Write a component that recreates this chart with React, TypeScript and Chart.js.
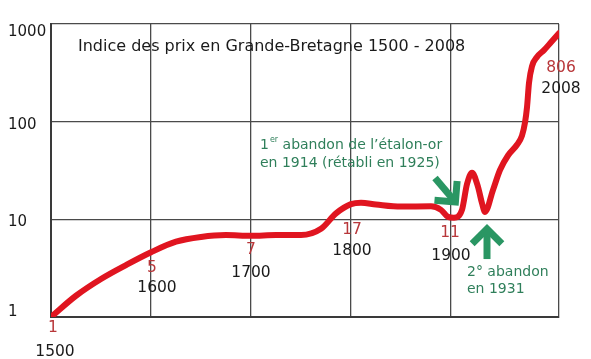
import React, { useEffect, useRef } from "react";
import { Chart, registerables } from "chart.js";

Chart.register(...registerables);

const years = [1500, 1525, 1550, 1575, 1600, 1625, 1650, 1675, 1700, 1725, 1750, 1770, 1785, 1800, 1810, 1825, 1850, 1880, 1890, 1897, 1903, 1911, 1916, 1921, 1927, 1931, 1934, 1942, 1949, 1957, 1966, 1971, 1974, 1976, 1978, 1981, 1986, 1993, 2000, 2008];
const prices = [1, 1.65, 2.45, 3.4, 4.6, 5.9, 6.6, 6.9, 6.8, 6.9, 6.9, 8.0, 11.5, 14.3, 14.8, 14.2, 13.5, 13.6, 12.5, 10.6, 10.4, 12.5, 23, 30, 21.5, 14.6, 11.9, 20, 32, 45, 58, 72, 98, 140, 250, 370, 460, 540, 650, 806];

const xTicks = [1500, 1600, 1700, 1800, 1900, 2008];
const yTicks = [1, 10, 100, 1000];
const yTickShift = [-5, 3, 3, 8];

const title = "Indice des prix en Grande-Bretagne 1500 - 2008";
const titlePos = [1527, 580];

// value labels (red) and year labels (black): [year, value, text]
const valueLabels: [number, number, string][] = [
  [1502, 0.77, "1"],
  [1601, 3.18, "5"],
  [1700, 4.85, "7"],
  [1801, 7.8, "17"],
  [1899, 7.25, "11"],
  [2010, 354, "806"],
];
const yearLabels: [number, number, string][] = [
  [1504, 0.44, "1500"],
  [1606, 1.98, "1600"],
  [1700, 2.82, "1700"],
  [1801, 4.74, "1800"],
  [1900, 4.22, "1900"],
  [2010, 216, "2008"],
];
// green notes: [year, value, main, superscript, rest]
const notes: [number, number, string, string, string][] = [
  [1709, 57.6, "1", "er", " abandon de l\u2019\u00e9talon-or"],
  [1709, 37.8, "en 1914 (r\u00e9tabli en 1925)", "", ""],
  [1916, 2.89, "2\u00b0 abandon", "", ""],
  [1916, 1.94, "en 1931", "", ""],
];
// arrows: [fromYear, fromValue, toYear, toValue]
const arrows: [number, number, number, number][] = [
  [1884, 26.5, 1907, 14.0],
  [1936, 3.92, 1936, 8.76],
];

const FONT = "'DejaVu Sans', sans-serif";

const annotPlugin = {
  id: "annot",
  afterDraw(chart: any) {
    const ctx = chart.ctx;
    const xs = chart.scales.x;
    const ys = chart.scales.y;
    const px = (v: number) => xs.getPixelForValue(v);
    const py = (v: number) => ys.getPixelForValue(v);
    ctx.save();
    ctx.textBaseline = "middle";
    // y tick labels
    ctx.fillStyle = "#1a1a1a";
    ctx.font = `15px ${FONT}`;
    ctx.textAlign = "left";
    yTicks.forEach((v, i) => ctx.fillText(String(v), ys.left, py(v) + yTickShift[i]));
    // title
    ctx.font = `16px ${FONT}`;
    ctx.fillText(title, px(titlePos[0]), py(titlePos[1]));
    // value labels
    ctx.textAlign = "center";
    ctx.font = `15.5px ${FONT}`;
    ctx.fillStyle = "#b8373a";
    valueLabels.forEach(([x, y, t]) => ctx.fillText(t, px(x), py(y)));
    ctx.fillStyle = "#1a1a1a";
    yearLabels.forEach(([x, y, t]) => ctx.fillText(t, px(x), py(y)));
    // notes
    ctx.textAlign = "left";
    ctx.fillStyle = "#2f7f5a";
    notes.forEach(([x, y, a, sup, rest]) => {
      let cx = px(x);
      const cy = py(y);
      ctx.font = `14px ${FONT}`;
      ctx.fillText(a, cx, cy);
      cx += ctx.measureText(a).width;
      if (sup) {
        ctx.font = `8px ${FONT}`;
        ctx.fillText(sup, cx + 1, cy - 5);
        cx += ctx.measureText(sup).width + 1;
      }
      if (rest) {
        ctx.font = `14px ${FONT}`;
        ctx.fillText(rest, cx, cy);
      }
    });
    // arrows
    ctx.strokeStyle = "#2a9663";
    ctx.lineWidth = 7;
    ctx.lineCap = "butt";
    ctx.lineJoin = "miter";
    arrows.forEach(([x0, y0, x1, y1]) => {
      const ax = px(x0), ay = py(y0), bx = px(x1), by = py(y1);
      const ang = Math.atan2(by - ay, bx - ax);
      const tx = bx - Math.cos(ang) * 4;
      const ty = by - Math.sin(ang) * 4;
      ctx.beginPath();
      ctx.moveTo(ax, ay);
      ctx.lineTo(tx, ty);
      ctx.stroke();
      const h = 21;
      ctx.beginPath();
      ctx.moveTo(tx - h * Math.cos(ang - Math.PI / 4), ty - h * Math.sin(ang - Math.PI / 4));
      ctx.lineTo(tx, ty);
      ctx.lineTo(tx - h * Math.cos(ang + Math.PI / 4), ty - h * Math.sin(ang + Math.PI / 4));
      ctx.stroke();
    });
    ctx.restore();
  },
};

export default function App() {
  const ref = useRef<HTMLCanvasElement>(null);
  useEffect(() => {
    if (!ref.current) return;
    const chart = new Chart(ref.current, {
      type: "line",
      data: {
        datasets: [
          {
            data: years.map((y, i) => ({ x: y, y: prices[i] })),
            borderColor: "#e01520",
            borderWidth: 6,
            pointRadius: 0,
            cubicInterpolationMode: "monotone",
            borderCapStyle: "round",
            borderJoinStyle: "round",
            fill: false,
          },
        ],
      },
      options: {
        animation: false,
        responsive: false,
        layout: { padding: { left: 8, right: 32, top: 24, bottom: 0 } },
        plugins: { legend: { display: false }, tooltip: { enabled: false }, title: { display: false } },
        scales: {
          x: {
            type: "linear",
            min: 1500,
            max: 2008,
            afterBuildTicks: (s: any) => {
              s.ticks = xTicks.map((v) => ({ value: v }));
            },
            afterFit: (s: any) => {
              s.height = 42;
            },
            ticks: { display: false },
            grid: { color: "#4a4a4a", lineWidth: 1.3, drawTicks: false },
            border: { color: "#3a3a3a", width: 2 },
          },
          y: {
            type: "logarithmic",
            min: 1,
            max: 1000,
            afterBuildTicks: (s: any) => {
              s.ticks = yTicks.map((v) => ({ value: v }));
            },
            afterFit: (s: any) => {
              s.width = 43;
            },
            ticks: { display: false },
            grid: { color: "#4a4a4a", lineWidth: 1.3, drawTicks: false },
            border: { color: "#3a3a3a", width: 2 },
          },
        },
      },
      plugins: [annotPlugin],
    } as any);
    return () => chart.destroy();
  }, []);
  return (
    <div style={{ position: "fixed", left: 0, top: 0, width: 591, height: 359, background: "#fff" }}>
      <canvas ref={ref} width={591} height={359} style={{ display: "block" }} />
    </div>
  );
}
